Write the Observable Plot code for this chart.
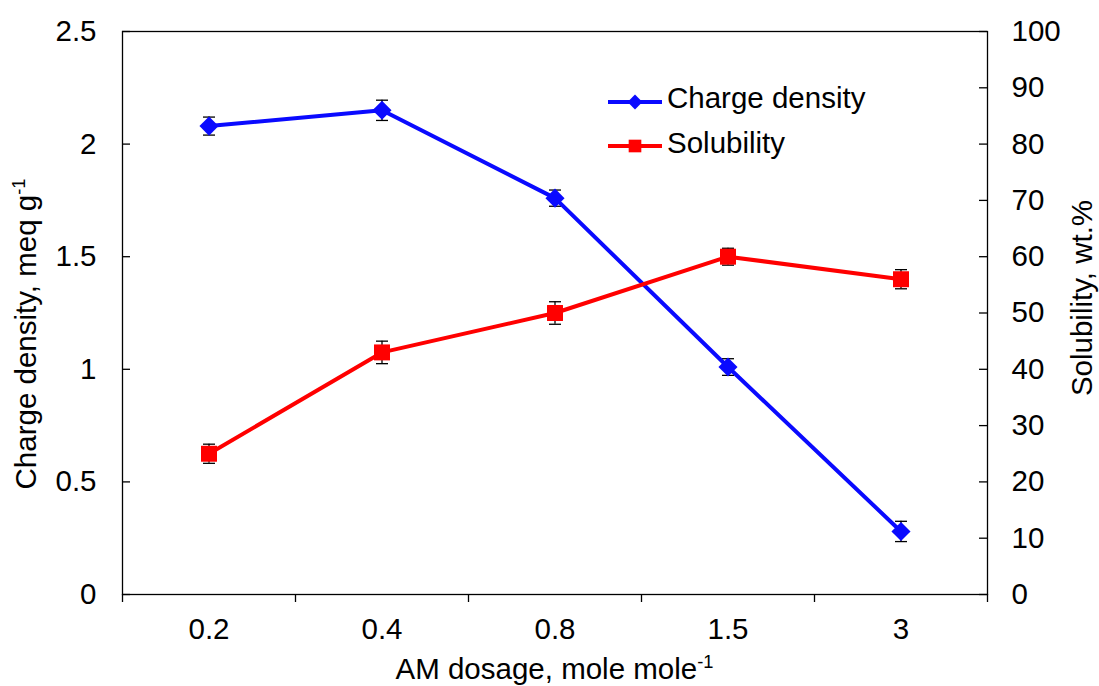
<!DOCTYPE html>
<html><head><meta charset="utf-8">
<script src="https://cdn.jsdelivr.net/npm/d3@7"></script>
<script src="https://cdn.jsdelivr.net/npm/@observablehq/plot@0.6"></script>
<style>
html,body{margin:0;padding:0;background:#fff;}
#wrap{width:1099px;height:686px;}
</style></head><body><div id="wrap"></div>
<script>
// ---- data ----
const dosage = ["0.2", "0.4", "0.8", "1.5", "3"];
const chargeDensity = [2.08, 2.15, 1.76, 1.01, 0.28];
const chargeErr = [0.04, 0.045, 0.036, 0.037, 0.045];
const solubility = [25, 43, 50, 60, 56];
const solubilityErr = [1.7, 2.0, 2.0, 1.5, 1.7];
const leftTicks = [0, 0.5, 1, 1.5, 2, 2.5];
const rightTicks = [0, 10, 20, 30, 40, 50, 60, 70, 80, 90, 100];
const seriesNames = ["Charge density", "Solubility"];
const seriesColors = ["#0a0aff", "#ff0000"];

const FS = 29.5;
const FONT = "'Liberation Sans', Arial, sans-serif";
const W = 1099, H = 686, mL = 122, mR = 112, mT = 31, mB = 92;
const plotW = W - mL - mR;
const ratio = 100 / 2.5; // right-axis units per left-axis unit

const cd = chargeDensity.map((v, i) => ({i, v, e: chargeErr[i]}));
const sol = solubility.map((v, i) => ({i, v: v / ratio, e: solubilityErr[i] / ratio}));
const caps = [...cd, ...sol].flatMap(d => [{i: d.i, y: d.v - d.e}, {i: d.i, y: d.v + d.e}]);

const capSymbol = {draw(ctx) { ctx.moveTo(-6, 0); ctx.lineTo(6, 0); }};

const chart = Plot.plot({
  width: W, height: H,
  marginLeft: mL, marginRight: mR, marginTop: mT, marginBottom: mB,
  style: {fontFamily: FONT, fontSize: FS + "px", background: "#fff", color: "#000", overflow: "visible"},
  x: {type: "linear", domain: [-0.5, dosage.length - 0.5]},
  y: {domain: [0, 2.5]},
  marks: [
    Plot.frame({stroke: "#000", strokeWidth: 1.3}),
    // x axis: boundary ticks (outside) and category labels
    Plot.axisX(d3.range(-0.5, dosage.length, 1), {tickSize: 8, tickFormat: () => "", strokeWidth: 1.3, label: null}),
    Plot.axisX(d3.range(dosage.length), {tickSize: 0, tickPadding: 24, tickFormat: i => dosage[i], fontSize: FS, label: null}),
    // left axis labels + inward ticks
    Plot.axisY(leftTicks, {anchor: "left", tickSize: 0, tickPadding: 26, tickFormat: d => String(d), fontSize: FS, label: null}),
    Plot.tickY(leftTicks, {y: d => d, insetRight: plotW - 8, stroke: "#000", strokeWidth: 1.3}),
    // right axis labels + inward ticks
    Plot.axisY(rightTicks.map(d => d / ratio), {anchor: "right", tickSize: 0, tickPadding: 24, tickFormat: d => String(Math.round(d * ratio)), textAnchor: "start", fontSize: FS, label: null}),
    Plot.tickY(rightTicks, {y: d => d / ratio, insetLeft: plotW - 8, stroke: "#000", strokeWidth: 1.3}),
    // error bars
    Plot.ruleX([...cd, ...sol], {x: "i", y1: d => d.v - d.e, y2: d => d.v + d.e, stroke: "#000", strokeWidth: 1.3}),
    Plot.dot(caps, {x: "i", y: "y", symbol: capSymbol, r: 3, fill: "none", stroke: "#000", strokeWidth: 1.3}),
    // series
    Plot.line(cd, {x: "i", y: "v", stroke: seriesColors[0], strokeWidth: 4}),
    Plot.dot(cd, {x: "i", y: "v", symbol: "diamond2", r: 8.6, fill: seriesColors[0], stroke: "none"}),
    Plot.line(sol, {x: "i", y: "v", stroke: seriesColors[1], strokeWidth: 4}),
    Plot.dot(sol, {x: "i", y: "v", symbol: "square", r: 9, fill: seriesColors[1], stroke: "none"})
  ]
});
document.getElementById("wrap").appendChild(chart);

// ---- axis titles and legend ----
const svg = d3.select(chart);
const g = svg.append("g").attr("font-family", FONT).attr("font-size", FS).attr("fill", "#000");

function labelWithSup(sel, main, sup) {
  sel.append("tspan").text(main);
  if (sup) sel.append("tspan").attr("font-size", FS * 0.62).attr("dy", -FS * 0.38).text(sup);
}
labelWithSup(g.append("text").attr("x", mL + plotW / 2).attr("y", 679).attr("text-anchor", "middle"), "AM dosage, mole mole", "-1");
labelWithSup(g.append("text").attr("transform", "translate(36,334) rotate(-90)").attr("text-anchor", "middle"), "Charge density, meq g", "-1");
g.append("text").attr("transform", "translate(1092,298) rotate(-90)").attr("text-anchor", "middle").text("Solubility, wt.%");

// legend
const legY = [102, 146];
const legSyms = [d3.symbolDiamond2, d3.symbolSquare];
const legSizes = [140, 160];
seriesNames.forEach((name, k) => {
  const lg = g.append("g").attr("transform", `translate(0,${legY[k]})`);
  lg.append("line").attr("x1", 608).attr("x2", 662).attr("y1", 0).attr("y2", 0).attr("stroke", seriesColors[k]).attr("stroke-width", 4);
  lg.append("path").attr("transform", "translate(635,0)").attr("d", d3.symbol(legSyms[k], legSizes[k])()).attr("fill", seriesColors[k]);
  lg.append("text").attr("x", 667).attr("y", k === 0 ? 6 : 7).attr("text-anchor", "start").text(name);
});
</script></body></html>
